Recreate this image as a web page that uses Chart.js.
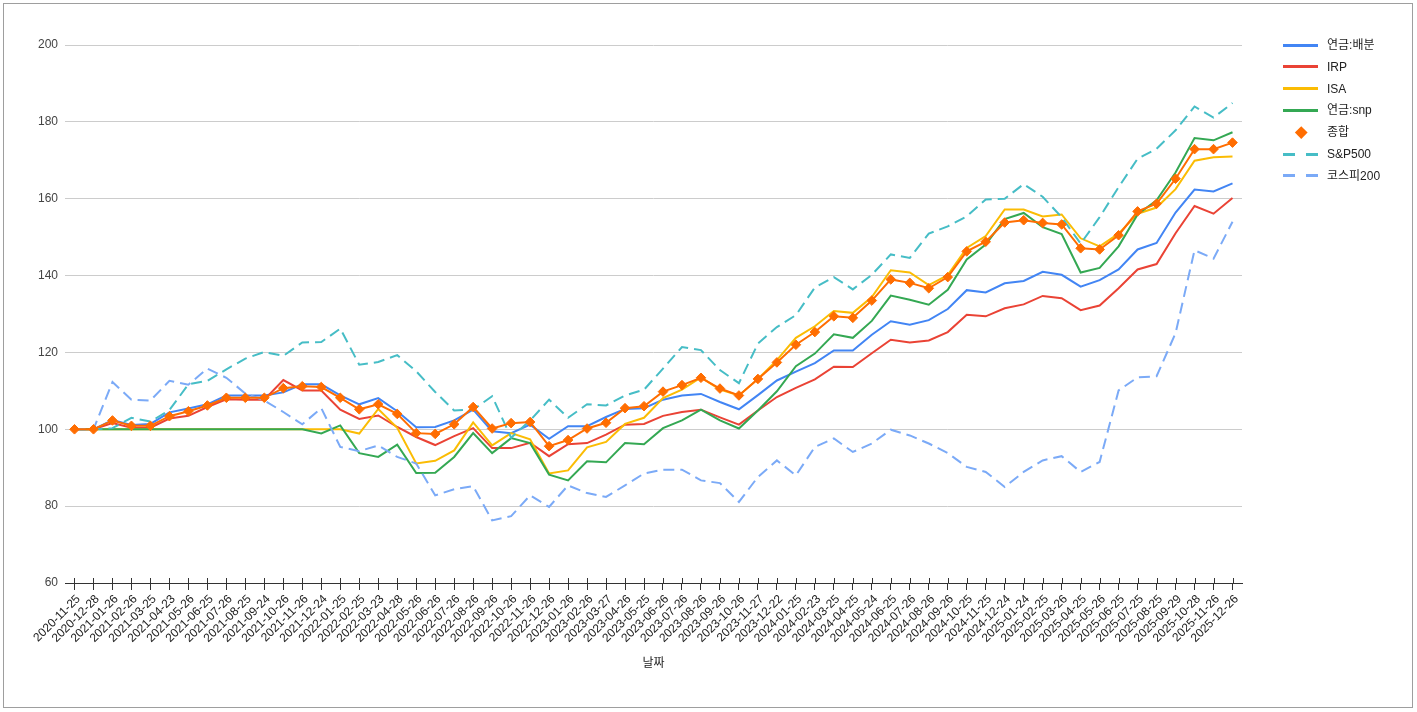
<!DOCTYPE html>
<html>
<head>
<meta charset="utf-8">
<script src="https://cdn.jsdelivr.net/npm/chart.js@4"></script>
<style>
  html, body { margin: 0; padding: 0; background: #fff; }
  body { width: 1417px; height: 712px; position: relative; overflow: hidden;
         font-family: Arial, "Liberation Sans", "Noto Sans CJK KR", sans-serif; }
  #frame { position: absolute; left: 3px; top: 3px; width: 1408px; height: 703px; border: 1px solid #9e9e9e; pointer-events: none; }
  #c { position: absolute; left: 0; top: 0; }
  #legend { position: absolute; left: 0; top: 0; }
  .item { position: absolute; height: 14px; font-size: 12px; color: #222; white-space: nowrap; }
  .sw { position: absolute; left: 1283px; }
</style>
</head>
<body>
<canvas id="c" width="1417" height="712"></canvas>
<div id="legend"></div>
<div id="frame"></div>
<script>
document.addEventListener('DOMContentLoaded', function () {
    //data
    const labels = ["2020-11-25","2020-12-28","2021-01-26","2021-02-26","2021-03-25","2021-04-23","2021-05-26","2021-06-25","2021-07-26","2021-08-25","2021-09-24","2021-10-26","2021-11-26","2021-12-24",
        "2022-01-25","2022-02-25","2022-03-23","2022-04-28","2022-05-26","2022-06-26","2022-07-26","2022-08-26","2022-09-26","2022-10-26","2022-11-26","2022-12-26",
        "2023-01-26","2023-02-26","2023-03-27","2023-04-26","2023-05-25","2023-06-26","2023-07-26","2023-08-26","2023-09-26","2023-10-26","2023-11-27","2023-12-22",
        "2024-01-25","2024-02-23","2024-03-25","2024-04-25","2024-05-24","2024-06-25","2024-07-26","2024-08-26","2024-09-26","2024-10-25","2024-11-25","2024-12-24",
        "2025-01-24","2025-02-25","2025-03-26","2025-04-25","2025-05-26","2025-06-25","2025-07-25","2025-08-25","2025-09-29","2025-10-28","2025-11-26","2025-12-26"];

    const pension = [100,100,102.4,101.1,101.4,104.4,105.4,106.5,108.8,108.8, 108.8,109.6,111.7,111.7,108.8,106.5,108.1,104.7,100.5,100.6,
        102.3,105.1,99.5,99,101.2,97.5,100.8,100.8,103.2,105.3, 105.5,107.7,108.8,109.2,107.1,105.2,108.9,112.7,115,117.2,
        120.5,120.5,124.6,128.1,127.2,128.4,131.3,136.2,135.6,138, 138.6,141,140.2,137.1,138.8,141.6,146.8,148.5,156.4,162.4, 161.9,164];
    const irp = [100,100,101.6,100.4,100.4,102.8,103.5,105.8,107.8,107.7, 107.7,112.8,110.1,110.1,105.1,102.7,103.6,100.6,98,95.9,
        98.2,100.3,95.1,95.1,96.5,93,96.1,96.4,98.6,101.2, 101.4,103.5,104.5,105.1,103.1,101.2,104.9,108.4,110.8,113,
        116.3,116.2,119.8,123.3,122.6,123.1,125.3,129.8,129.4,131.5, 132.5,134.7,134.1,131,132.2,136.7,141.6,143,151,158.1, 156.1,160.2];
    const isa = [100,100,100,100,100,100,100,100,100,100, 100,100,100,100,100,98.9,105.3,100.4,91.1,91.8,
        94.5,101.8,95.8,99,97.4,88.5,89.3,95.3,96.7,101.4, 103,108.1,110.3,113.5,110.3,108.8,113.1,118,123.8,126.8,
        130.8,130.3,134.4,141.4,140.8,137.5,140.1,147.2,150.3,157.2, 157.2,155.4,155.9,149.7,147.6,150.9,156.1,157.7,162.5,169.9, 170.8,171];
    const snp = [100,100,100,100,100,100,100,100,100,100, 100,100,100,98.9,101,93.8,92.8,96,88.6,88.7,
        92.8,99,93.8,97.7,96.4,88.2,86.7,91.7,91.4,96.4, 96.1,100.3,102.3,105.1,102.3,100.2,104.9,109.9,116.4,119.7,
        124.7,123.8,128.2,134.8,133.7,132.4,136.3,144.2,148.1,154.7, 156.3,152.6,150.8,140.8,142,147.6,155.9,159.6,166.8,175.8, 175.2,177.3];
    const total = [100,100,102.3,100.9,100.9,103.4,104.7,106.2,108.2,108.2, 108.2,110.7,111.2,111,108.2,105.2,106.5,104,99,98.8,
        101.3,105.8,100.2,101.6,101.9,95.6,97.2,100.2,101.7,105.5, 106,109.8,111.5,113.4,110.6,108.8,113.1,117.4,122,125.3,
        129.4,129,133.5,139,138.1,136.7,139.6,146.3,148.8,153.8, 154.4,153.7,153.3,147.1,146.8,150.5,156.7,158.7,165.2,172.9, 172.9,174.6];
    const sp500 = [100,100,100.3,103,102,105,111.7,112.6,115.6,118.4, 120.1,119.1,122.6,122.7,126.2,116.8,117.5,119.3,115.1,109.7,
        104.9,105.1,108.6,97.8,102.3,107.7,103,106.5,106.2,108.8, 110.3,115.8,121.4,120.6,115.4,112,122.3,126.6,129.7,136.9,
        139.6,136.4,140.2,145.5,144.6,150.9,152.8,155.4,159.8,160, 163.8,160.5,155.2,148.3,155.2,163,170.4,173,177.8,184, 181.1,184.9];
    const kospi200 = [100,100,112.3,107.7,107.5,112.6,111.6,115.8,113.4,109.3, 107.5,104.5,101.3,105.5,95.4,94.3,95.8,92.8,91.1,82.8,
        84.4,85.2,76.3,77.4,82.8,79.8,85.4,83.4,82.4,85.4, 88.5,89.5,89.5,86.7,86,81.1,87.6,91.9,88,95.4,
        97.6,94.1,96.3,99.9,98.4,96.3,93.8,90.2,88.9,85, 88.9,91.9,93,88.9,91.5,110.1,113.5,113.8,125,146.6, 144.4,154];
    const yTicks = [60, 80, 100, 120, 140, 160, 180, 200];

    const FONT = 'Arial, "Liberation Sans", "Noto Sans CJK KR", sans-serif';
    Chart.defaults.font.family = FONT;
    Chart.defaults.font.size = 12;

    function line(label, data, color, order, dash) {
        return {
            label: label, data: data, borderColor: color, backgroundColor: color,
            borderWidth: 2, borderDash: dash || [], pointRadius: 0, pointHoverRadius: 0,
            tension: 0, fill: false, order: order, legendDash: !!dash
        };
    }

    const datasets = [
        line("연금:배분", pension, "#4285F4", 7),
        line("IRP", irp, "#EA4335", 6),
        line("ISA", isa, "#FBBC04", 5),
        line("연금:snp", snp, "#34A853", 4),
        {
            label: "종합", data: total, borderColor: "#FF6D01", backgroundColor: "#FF6D01",
            borderWidth: 2, pointStyle: 'rectRot', pointRadius: 4.8, pointBorderWidth: 1,
            pointBackgroundColor: "#FF6D01", pointBorderColor: "#FF6D01", tension: 0, order: 0, legendDiamond: true
        },
        line("S&P500", sp500, "#46BDC6", 2, [11, 6]),
        line("코스피200", kospi200, "#7BAAF7", 1, [11, 6])
    ];

    // tick marks that cross the axis line
    const tickUp = {
        id: 'tickUp',
        afterDraw(chart) {
            const sx = chart.scales.x, ctx = chart.ctx, b = chart.chartArea.bottom;
            ctx.save();
            ctx.strokeStyle = '#333';
            ctx.lineWidth = 1;
            ctx.beginPath();
            sx.ticks.forEach(function (t, i) {
                const px = Math.round(sx.getPixelForTick(i)) + 0.5;
                ctx.moveTo(px, b - 5);
                ctx.lineTo(px, b);
            });
            ctx.stroke();
            ctx.restore();
        }
    };

    const chart = new Chart("c", {
        type: "line",
        data: { labels: labels, datasets: datasets },
        options: {
            responsive: false,
            animation: false,
            devicePixelRatio: 1,
            layout: { padding: { left: 0, right: 175, top: 45, bottom: 0 } },
            plugins: { legend: { display: false }, tooltip: { enabled: false } },
            scales: {
                x: {
                    offset: true,
                    grid: { offset: false, drawOnChartArea: false, color: '#333', tickLength: 7 },
                    border: { display: true, color: '#333', width: 1 },
                    ticks: { autoSkip: false, maxRotation: 45, minRotation: 45, color: '#222', padding: 2, labelOffset: 4, font: { size: 12 } },
                    title: { display: true, text: "날짜", color: '#222', font: { size: 12 }, padding: { top: 0, bottom: 41 } },
                    afterFit: function (s) { s.height = 129; }
                },
                y: {
                    min: 60, max: 200,
                    afterBuildTicks: function (s) { s.ticks = yTicks.map(function (v) { return { value: v }; }); },
                    grid: { color: '#cccccc', drawTicks: false },
                    border: { display: false },
                    ticks: { color: '#444', padding: 7, font: { size: 12 } },
                    afterFit: function (s) { s.width = 65; }
                }
            }
        },
        plugins: [tickUp]
    });

    //legend
    const lg = document.getElementById('legend');
    chart.data.datasets.forEach(function (ds, i) {
        const cy = 45 + i * 21.8;
        const sw = document.createElement('div');
        sw.className = 'sw';
        if (ds.legendDiamond) {
            sw.style.cssText = 'left:1296.5px;top:' + (cy - 4.25) + 'px;width:8.5px;height:8.5px;background:' + ds.borderColor + ';transform:rotate(45deg);';
        } else if (ds.legendDash) {
            sw.style.cssText = 'top:' + (cy - 1.5) + 'px;width:35px;height:3px;background:linear-gradient(to right,' +
                ds.borderColor + ' 0 12px, transparent 12px 23px,' + ds.borderColor + ' 23px 35px);';
        } else {
            sw.style.cssText = 'top:' + (cy - 1.5) + 'px;width:35px;height:3px;background:' + ds.borderColor + ';';
        }
        lg.appendChild(sw);
        const tx = document.createElement('div');
        tx.className = 'item';
        tx.style.left = '1327px';
        tx.style.top = (cy - 7) + 'px';
        tx.style.lineHeight = '14px';
        tx.textContent = ds.label;
        lg.appendChild(tx);
    });
});
</script>
</body>
</html>
